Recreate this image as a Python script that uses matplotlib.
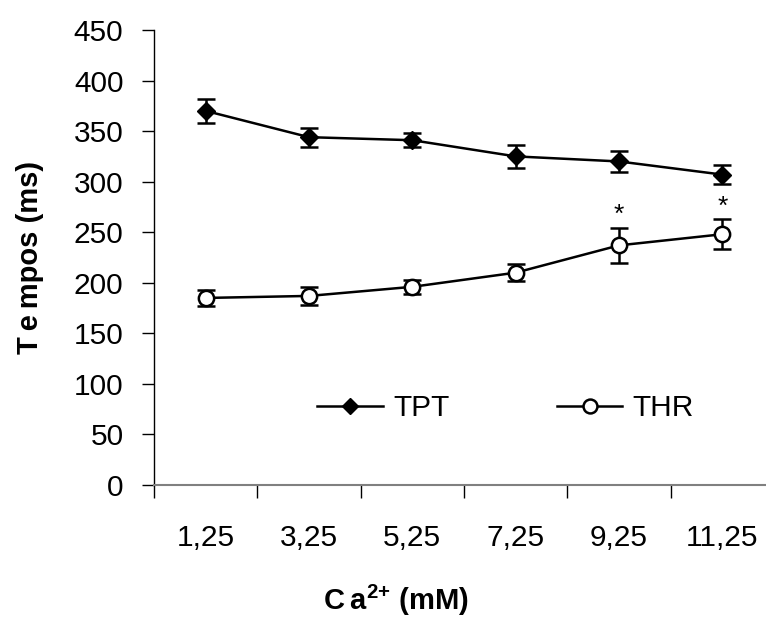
import numpy as np
import matplotlib
matplotlib.use("Agg")
import matplotlib.pyplot as plt
from matplotlib.lines import Line2D

### DATA ###
ca_labels = ['1,25', '3,25', '5,25', '7,25', '9,25', '11,25']
tpt = [370, 344, 341, 325, 320, 307]
tpt_err = [11.5, 9.5, 7, 11, 10.5, 9]
thr = [185, 187, 196, 210, 237, 248]
thr_err = [7.5, 8.5, 7, 8.5, 17.5, 15]
# significance markers (index of category) on THR
sig_idx = [4, 5]

plt.rcParams['font.family'] = ['Liberation Sans', 'DejaVu Sans']
plt.rcParams['mathtext.fontset'] = 'custom'
plt.rcParams['mathtext.rm'] = 'Liberation Sans'
plt.rcParams['mathtext.bf'] = 'Liberation Sans:bold'

fig = plt.figure(figsize=(7.66, 6.21), dpi=100, facecolor='w')
# axes runs a bit past the right edge, as in the original
ax = fig.add_axes([154 / 766, 136 / 621, 620 / 766, 455 / 621])

x = np.arange(len(ca_labels))

ax.errorbar(x, tpt, yerr=tpt_err, color='black', marker='D', markersize=9,
            markerfacecolor='black', linewidth=1.8, elinewidth=1.8,
            capsize=6.5, capthick=1.8, zorder=3)
ax.errorbar(x, thr, yerr=thr_err, color='black', marker='o', markersize=11,
            markerfacecolor='white', markeredgewidth=1.8, linewidth=1.8,
            elinewidth=1.8, capsize=6.5, capthick=1.8, zorder=3)

# asterisks above the THR error bars
for i in sig_idx:
    ax.annotate('*', xy=(x[i], thr[i] + thr_err[i]), xytext=(0, 4),
                textcoords='offset points', ha='center', va='baseline',
                fontsize=19)

ax.set_xlim(-0.5, len(ca_labels) - 0.5)
ax.set_ylim(0, 450)
ax.set_yticks(np.arange(0, 451, 50))

# category axis: ticks on the boundaries, labels in the middle
ax.set_xticks(np.arange(-0.5, len(ca_labels), 1.0))
ax.set_xticklabels([])
ax.set_xticks(x, minor=True)
ax.set_xticklabels(ca_labels, minor=True)
ax.tick_params(axis='x', which='major', direction='out', length=9, width=1,
               color='black')
ax.tick_params(axis='x', which='minor', length=0, pad=28, labelsize=21.5)
ax.tick_params(axis='y', direction='out', length=9, width=1, pad=13,
               labelsize=21.5)

for s in ['top', 'right']:
    ax.spines[s].set_visible(False)
ax.spines['bottom'].set_color('#808080')
ax.spines['bottom'].set_linewidth(1.5)
ax.spines['left'].set_linewidth(1)

handles = [
    Line2D([], [], color='black', marker='D', markersize=8, linewidth=1.8),
    Line2D([], [], color='black', marker='o', markersize=10,
           markerfacecolor='white', markeredgewidth=1.8, linewidth=1.8),
]
ax.legend(handles, ['TPT', 'THR'], loc='center', bbox_to_anchor=(0.567, 0.169),
          ncol=2, frameon=False, fontsize=21.5, handlelength=2.2,
          handletextpad=0.35, columnspacing=3.6, borderpad=0)

fig.text(30 / 766, 1 - 257 / 621, 'T\u2009e\u2009mpos (ms)', rotation=90,
         ha='center', va='center', fontsize=21, fontweight='bold')
fig.text(396 / 766, 1 - 600 / 621, 'C\u2009a$^{\\mathbf{2{+}}}$ (mM)',
         ha='center', va='center', fontsize=21, fontweight='bold')

plt.savefig('out.png', dpi=100)
